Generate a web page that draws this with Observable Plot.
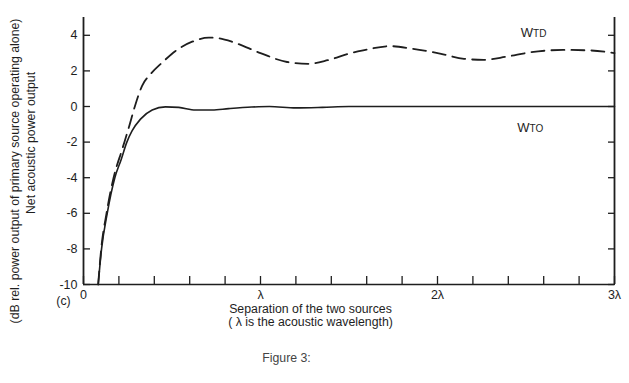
<!DOCTYPE html>
<html><head><meta charset="utf-8">
<script src="https://cdn.jsdelivr.net/npm/d3@7"></script>
<script src="https://cdn.jsdelivr.net/npm/@observablehq/plot@0.6"></script>
<style>body{margin:0;background:#fff;} svg{display:block;}</style>
</head><body><div id="chart"></div>
<script>
// Separation of the two sources (in acoustic wavelengths) and net power output (dB)
const separationTO = [0.083,0.102,0.134,0.177,0.212,0.245,0.275,0.322,0.388,0.463,0.538,0.633,0.727,0.82,0.95,1.05,1.2,1.35,1.5,1.8,2.2,2.6,3.0];
const wTO = [-10,-8,-6,-4,-3,-2,-1.36,-0.71,-0.2,-0.02,-0.05,-0.2,-0.2,-0.12,-0.03,0,-0.08,-0.05,0,0,0,0,0];
const separationTD = [0.083,0.10,0.13,0.17,0.219,0.256,0.294,0.331,0.379,0.445,0.52,0.614,0.708,0.765,0.85,1.0,1.15,1.27,1.38,1.51,1.58,1.73,1.86,2.02,2.15,2.26,2.39,2.53,2.71,2.86,3.0];
const wTD = [-10,-8,-6,-4,-2.39,-1.18,0.13,1.16,1.82,2.47,3.12,3.64,3.87,3.83,3.6,3.0,2.5,2.4,2.6,3.0,3.15,3.39,3.24,2.96,2.68,2.62,2.8,3.05,3.18,3.15,3.0];

const xTicks = [0,0.2,0.4,0.6,0.8,1,1.2,1.4,1.6,1.8,2,2.2,2.4,2.6,2.8,3];
const xLabelValues = [0,1,2,3];
const xTickLabels = ["0","λ","2λ","3λ"];
const yTicks = [-10,-8,-6,-4,-2,0,2,4];

const seriesNames = ["TD","TO"];
const seriesLabelX = [2.54,2.52];
const seriesLabelY = [3.88,-1.46];

const toData = separationTO.map((s,i)=>({separation:s, power:wTO[i]}));
const tdData = separationTD.map((s,i)=>({separation:s, power:wTD[i]}));
const labelData = seriesNames.map((n,i)=>({name:n, x:seriesLabelX[i], y:seriesLabelY[i]}));

const ink = "#1e1e1e";
const font = "'Liberation Sans', Arial, Helvetica, sans-serif";
const xLabel = d => { const k = xLabelValues.indexOf(d); return k >= 0 ? xTickLabels[k] : ""; };
const hasAxisMarks = typeof Plot.axisX === "function";

const axisMarks = hasAxisMarks ? [
  Plot.axisX(xTicks, {anchor: "bottom", tickSize: -8, strokeWidth: 1.3, tickFormat: () => ""}),
  Plot.axisX(xLabelValues, {anchor: "bottom", tickSize: 0, tickPadding: 6, fontSize: 12.5, tickFormat: xLabel}),
  Plot.axisY(yTicks, {anchor: "left", tickSize: -7, strokeWidth: 1.3, tickFormat: () => ""}),
  Plot.axisY(yTicks, {anchor: "left", tickSize: 0, tickPadding: 6, fontSize: 12.5, tickFormat: d => String(d)}),
  Plot.axisY(yTicks, {anchor: "right", tickSize: -7, strokeWidth: 1.3, tickFormat: () => ""})
] : [
  Plot.ruleY(yTicks, {insetLeft: 531 - 7, stroke: ink, strokeWidth: 1.3})
];

const txt = {textAnchor: "middle", fontSize: 12.3, fill: ink};

const plot = Plot.plot({
  width: 629, height: 383,
  marginLeft: 83, marginRight: 15, marginTop: 17, marginBottom: 99,
  style: {fontFamily: font, color: ink, background: "#fff", fontSize: "12px"},
  x: hasAxisMarks ? {domain: [0,3]} : {domain: [0,3], ticks: xTicks, tickSize: -8, tickPadding: 6, tickFormat: xLabel, label: null},
  y: hasAxisMarks ? {domain: [-10,5]} : {domain: [-10,5], ticks: yTicks, tickSize: -7, tickPadding: 6, tickFormat: d => String(d), label: null},
  marks: [
    Plot.ruleX([0,3], {stroke: ink, strokeWidth: 1.8}),
    Plot.ruleY([-10], {stroke: ink, strokeWidth: 1.6}),
    ...axisMarks,
    Plot.line(tdData, {x: "separation", y: "power", curve: "monotone-x", stroke: ink, strokeWidth: 1.8, strokeDasharray: "13,7"}),
    Plot.line(toData, {x: "separation", y: "power", curve: "monotone-x", stroke: ink, strokeWidth: 1.6}),
    Plot.text(labelData, {x: "x", y: "y", text: () => "W", textAnchor: "end", lineAnchor: "bottom", fontSize: 13, fill: ink}),
    Plot.text(labelData, {x: "x", y: "y", text: "name", textAnchor: "start", lineAnchor: "bottom", fontSize: 10, fill: ink}),
    Plot.text(["Net acoustic power output"], {...txt, text: d => d, frameAnchor: "left", rotate: -90, dx: -52, dy: -8}),
    Plot.text(["(dB rel. power output of primary source operating alone)"], {...txt, text: d => d, frameAnchor: "left", rotate: -90, dx: -68, dy: 20}),
    Plot.text(["(c)"], {...txt, text: d => d, frameAnchor: "bottom-left", dx: -20, dy: 20}),
    Plot.text(["Separation of the two sources"], {...txt, text: d => d, frameAnchor: "bottom", dx: -38.5, dy: 28}),
    Plot.text(["( λ is the acoustic wavelength)"], {...txt, text: d => d, frameAnchor: "bottom", dx: -38.5, dy: 41}),
    Plot.text(["Figure 3:"], {...txt, text: d => d, frameAnchor: "bottom", dx: -62.5, dy: 77, fontSize: 12.3, fill: "#444"})
  ]
});
document.getElementById("chart").appendChild(plot);
</script>
</body></html>
